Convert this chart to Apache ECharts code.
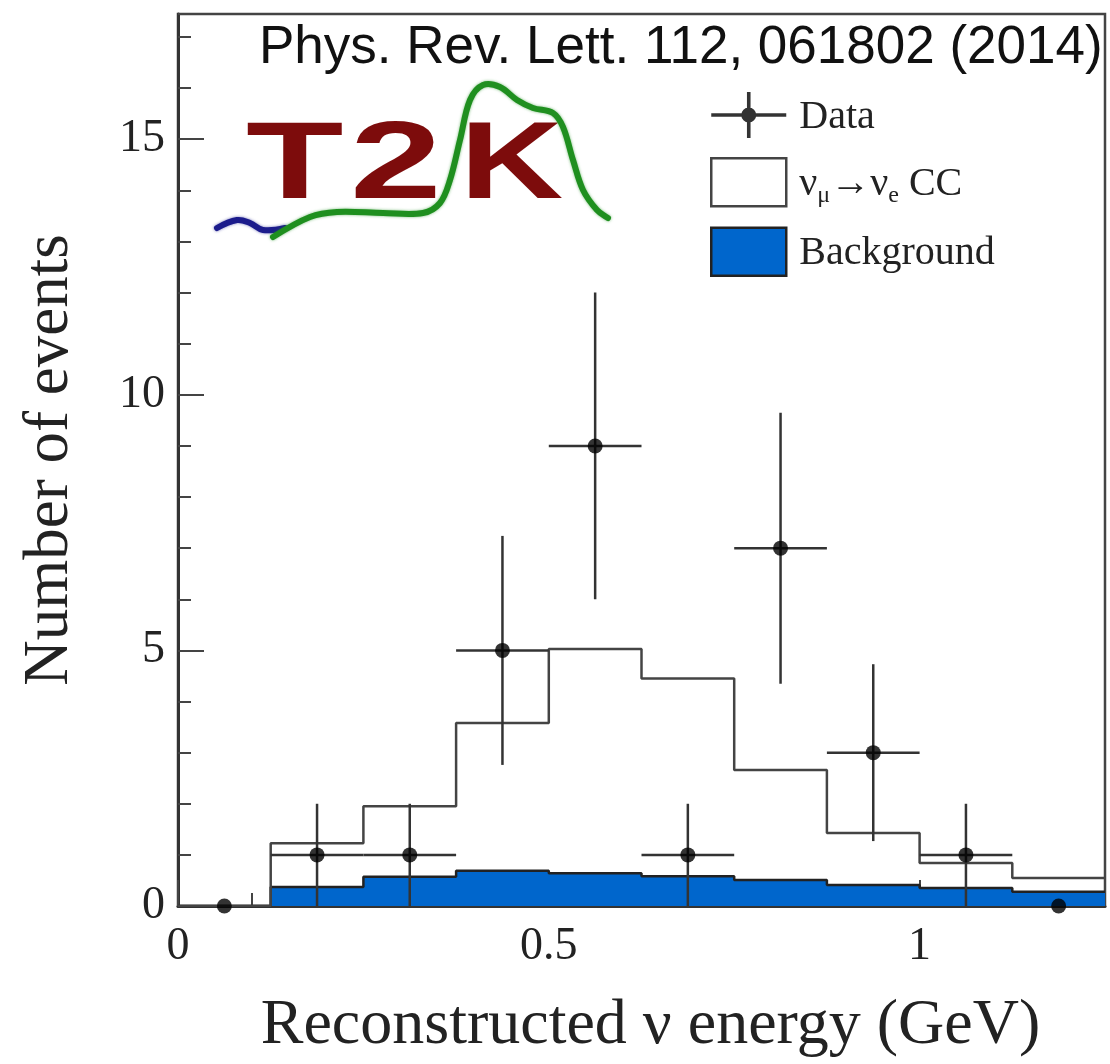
<!DOCTYPE html>
<html>
<head>
<meta charset="utf-8">
<script src="https://cdn.jsdelivr.net/npm/echarts@6/dist/echarts.min.js"></script>
<style>
html,body{margin:0;padding:0;background:#fff;}
#chart{width:1110px;height:1064px;}
</style>
</head>
<body>
<div id="chart"></div>
<script>
// ---- data ----
const binEdges = [0, 0.125, 0.25, 0.375, 0.5, 0.625, 0.75, 0.875, 1.0, 1.125, 1.25];
const totalPredicted = [0, 1.23, 1.95, 3.58, 5.03, 4.45, 2.66, 1.43, 0.84, 0.55]; // νμ→νe CC + background
const background = [0, 0.37, 0.57, 0.69, 0.64, 0.58, 0.51, 0.41, 0.35, 0.28];
const dataX = [0.0625, 0.1875, 0.3125, 0.4375, 0.5625, 0.6875, 0.8125, 0.9375, 1.0625, 1.1875];
const dataCounts = [0, 1, 1, 5, 9, 1, 7, 3, 1, 0];
const errLow = [0, 0, 0, 2.76, 6.0, 0, 4.35, 1.27, 0, 0];
const errHigh = [0, 2, 2, 7.24, 12.0, 2, 9.65, 4.73, 2, 0];
const xTickLabels = ['0', '0.5', '1'];
const yTickLabels = ['0', '5', '10', '15'];

const SIG = 'νμ→νe CC';
const SERIF = '"Liberation Serif", "DejaVu Serif", serif';

function stepData(vals) {
  const out = [];
  for (let i = 0; i < vals.length; i++) out.push([binEdges[i], vals[i]]);
  out.push([binEdges[binEdges.length - 1], vals[vals.length - 1]]);
  return out;
}
const scatterData = dataX.map((x, i) => [x, dataCounts[i]]);
const errData = dataX.map((x, i) => [x, dataCounts[i], errLow[i], errHigh[i], binEdges[i], binEdges[i + 1]]);

const chart = echarts.init(document.getElementById('chart'));
const axisCol = '#333';
const tickCol = '#444';

const dataIcon = 'path://M0,21.2L75,21.2L75,24.8L0,24.8Z M35.7,0L39.3,0L39.3,46L35.7,46Z M30,23 A7.5,7.5 0 1 1 45,23 A7.5,7.5 0 1 1 30,23Z';

const option = {
  animation: false,
  backgroundColor: '#fff',
  title: {
    text: 'Phys. Rev. Lett. 112, 061802 (2014)',
    left: 254, top: 17,
    textStyle: { fontFamily: '"Liberation Sans", Arial, sans-serif', fontSize: 53, fontWeight: 'normal', color: '#111' }
  },
  grid: { left: 178, right: 5, top: 14, bottom: 158, show: true, borderColor: '#444', borderWidth: 2.5, backgroundColor: 'transparent' },
  legend: {
    orient: 'vertical', left: 710, top: 92, padding: 0,
    itemWidth: 75, itemHeight: 48, itemGap: 19,
    selectedMode: false,
    data: [
      { name: 'Data', icon: dataIcon, itemStyle: { color: '#000', borderWidth: 0 } },
      { name: SIG, icon: 'rect', itemStyle: { color: '#fff', borderColor: '#444', borderWidth: 2.5 } },
      { name: 'Background', icon: 'rect', itemStyle: { color: '#0066cc', borderColor: '#222', borderWidth: 2.5 } }
    ],
    formatter: function (name) {
      if (name === SIG) return '{t|ν}{s|μ}{t|→ν}{s|e}{t| CC}';
      return '{t|' + name + '}';
    },
    textStyle: {
      fontFamily: SERIF, fontSize: 40, color: '#222', padding: [4, 0, 0, 8],
      rich: {
        t: { fontFamily: SERIF, fontSize: 40, lineHeight: 46, color: '#222' },
        s: { fontFamily: SERIF, fontSize: 24, lineHeight: 24, verticalAlign: 'bottom', color: '#222' }
      }
    }
  },
  xAxis: [
    {
      type: 'value', min: 0, max: 1.25, interval: 0.5, position: 'bottom',
      axisLine: { show: true, onZero: false, lineStyle: { color: axisCol, width: 3 } },
      axisTick: { show: true, inside: true, length: 26, lineStyle: { color: tickCol, width: 2 } },
      axisLabel: {
        show: true, margin: 18, showMaxLabel: false, fontFamily: SERIF, fontSize: 46, color: '#222',
        formatter: function (v) { const i = [0, 0.5, 1].indexOf(v); return i >= 0 ? xTickLabels[i] : ''; }
      },
      splitLine: { show: false },
      name: 'Reconstructed ν energy (GeV)', nameLocation: 'middle', nameGap: 88,
      nameTextStyle: { fontFamily: SERIF, fontSize: 64, color: '#222', padding: [0, 0, 0, 18] }
    },
    {
      type: 'value', min: 0, max: 1.25, interval: 0.1, position: 'bottom',
      axisLine: { show: false },
      axisTick: { show: true, inside: true, length: 13, lineStyle: { color: tickCol, width: 2 } },
      axisLabel: { show: false }, splitLine: { show: false }
    }
  ],
  yAxis: [
    {
      type: 'value', min: 0, max: 17.45, interval: 5, position: 'left',
      axisLine: { show: true, onZero: false, lineStyle: { color: axisCol, width: 3 } },
      axisTick: { show: true, inside: true, length: 26, lineStyle: { color: tickCol, width: 2 } },
      axisLabel: {
        show: true, margin: 13, showMaxLabel: false, fontFamily: SERIF, fontSize: 46, color: '#222',
        formatter: function (v) { const i = [0, 5, 10, 15].indexOf(v); return i >= 0 ? yTickLabels[i] : ''; }
      },
      splitLine: { show: false },
      name: 'Number of events', nameLocation: 'middle', nameGap: 96,
      nameTextStyle: { fontFamily: SERIF, fontSize: 63, color: '#222' }
    },
    {
      type: 'value', min: 0, max: 17.45, interval: 1, position: 'left',
      axisLine: { show: false },
      axisTick: { show: true, inside: true, length: 13, lineStyle: { color: tickCol, width: 2 } },
      axisLabel: { show: false }, splitLine: { show: false }
    }
  ],
  series: [
    {
      name: 'Background', type: 'line', step: 'end', symbol: 'none', z: 2,
      data: stepData(background),
      lineStyle: { color: '#222', width: 2.5 },
      itemStyle: { color: '#0066cc' },
      areaStyle: { color: '#0066cc', opacity: 1 }
    },
    {
      name: SIG, type: 'line', step: 'end', symbol: 'none', z: 3,
      data: stepData(totalPredicted),
      lineStyle: { color: '#444', width: 2.5 },
      itemStyle: { color: '#fff' }
    },
    {
      name: 'Data errors', type: 'custom', z: 4,
      data: errData,
      encode: { x: 0, y: 1 },
      renderItem: function (params, api) {
        const x = api.value(0), y = api.value(1), lo = api.value(2), hi = api.value(3), x0 = api.value(4), x1 = api.value(5);
        if (!(y > 0)) return null;
        const a = api.coord([x, lo]), b = api.coord([x, hi]);
        const l = api.coord([x0, y]), r = api.coord([x1, y]);
        const st = { stroke: '#333', lineWidth: 2.5 };
        return {
          type: 'group',
          children: [
            { type: 'line', shape: { x1: a[0], y1: a[1], x2: b[0], y2: b[1] }, style: st },
            { type: 'line', shape: { x1: l[0], y1: l[1], x2: r[0], y2: r[1] }, style: st }
          ]
        };
      }
    },
    {
      name: 'Data', type: 'scatter', z: 5,
      data: scatterData, symbol: 'circle', symbolSize: 15,
      itemStyle: { color: '#000' }
    }
  ],
  graphic: [
    { type: 'polyline', z: 10, silent: true,
      shape: { smooth: 0.4, points: [[217, 228], [237, 220], [250, 223], [263, 230], [285, 228]] },
      style: { stroke: '#1c1c8c', lineWidth: 6, fill: null, lineCap: 'round', shadowBlur: 3, shadowColor: 'rgba(28,28,140,0.6)' } },
    { type: 'text', z: 10, silent: true, x: 246, y: 113, scaleX: 1.45,
      style: { text: 'T', font: 'bold 110px "Liberation Sans", Arial, sans-serif', fill: '#7d0c0c', verticalAlign: 'top' } },
    { type: 'text', z: 10, silent: true, x: 350, y: 113, scaleX: 1.5,
      style: { text: '2', font: 'bold 110px "Liberation Sans", Arial, sans-serif', fill: '#7d0c0c', verticalAlign: 'top' } },
    { type: 'text', z: 10, silent: true, x: 460, y: 113, scaleX: 1.3,
      style: { text: 'K', font: 'bold 110px "Liberation Sans", Arial, sans-serif', fill: '#7d0c0c', verticalAlign: 'top' } },
    { type: 'polyline', z: 11, silent: true,
      shape: { smooth: 0.35, points: [[273, 237], [310, 217], [337, 212], [383, 213], [423, 213], [440, 203], [450, 180], [460, 140], [470, 100], [483, 85], [500, 87], [517, 100], [533, 108], [553, 113], [563, 127], [573, 160], [583, 190], [597, 210], [608, 218]] },
      style: { stroke: '#1f8f1f', lineWidth: 6, fill: null, lineCap: 'round', shadowBlur: 3, shadowColor: 'rgba(31,143,31,0.6)' } }
  ]
};
chart.setOption(option);
</script>
</body>
</html>
